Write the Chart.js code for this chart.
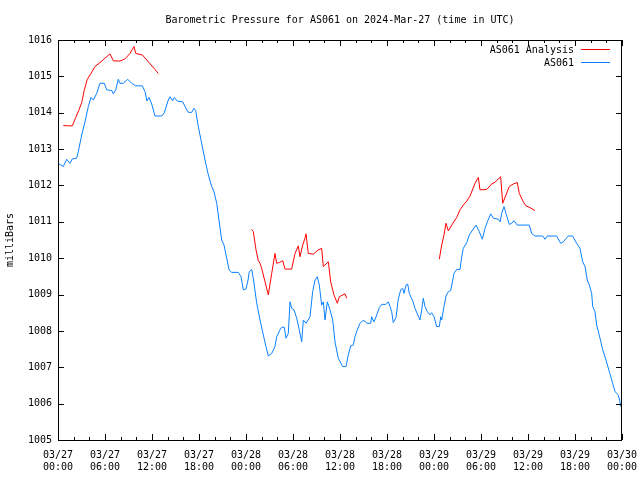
<!DOCTYPE html>
<html>
<head>
<meta charset="utf-8">
<script src="https://cdn.jsdelivr.net/npm/chart.js@4.4.1/dist/chart.umd.min.js"></script>
<style>
  html, body { margin: 0; padding: 0; background: #fff; }
</style>
</head>
<body>
<canvas id="myChart" width="640" height="480"></canvas>
<script>
const chartTitle = 'Barometric Pressure for AS061 on 2024-Mar-27 (time in UTC)';

// x tick labels, one per 6 hours from 03/27 00:00
const tickDates = ['03/27', '03/27', '03/27', '03/27', '03/28', '03/28', '03/28', '03/28', '03/29', '03/29', '03/29', '03/29', '03/30'];
const tickTimes = ['00:00', '06:00', '12:00', '18:00', '00:00', '06:00', '12:00', '18:00', '00:00', '06:00', '12:00', '18:00', '00:00'];

// AS061 station, hours since 03/27 00:00 UTC
const stationHours = [
    0.00, 0.68, 1.11, 1.53, 1.83, 2.39, 2.59, 3.03, 3.45, 3.87,
    4.21, 4.51, 4.94, 5.36, 5.91, 6.22, 6.86, 7.06, 7.37, 7.70,
    7.91, 8.34, 8.90, 9.41, 9.92, 10.76, 11.11, 11.36, 11.62, 11.96,
    12.38, 13.24, 13.57, 14.08, 14.30, 14.64, 14.85, 15.23, 15.92, 16.34,
    16.63, 17.07, 17.36, 17.58, 17.91, 18.34, 18.77, 19.19, 19.62, 19.91,
    20.26, 20.55, 20.90, 21.19, 21.54, 21.83, 22.17, 23.02, 23.36, 23.66,
    24.00, 24.26, 24.42, 24.73, 24.93, 25.37, 25.79, 26.21, 26.55, 26.85,
    27.28, 27.70, 27.92, 28.34, 28.56, 28.89, 29.11, 29.40, 29.62, 29.83,
    30.13, 30.47, 30.80, 31.11, 31.32, 31.66, 32.17, 32.51, 32.81, 33.10,
    33.36, 33.66, 33.87, 34.09, 34.38, 34.72, 35.07, 35.36, 35.78, 36.34,
    36.77, 37.06, 37.37, 37.70, 37.91, 38.21, 38.55, 38.90, 39.19, 39.41,
    39.92, 40.04, 40.34, 40.69, 41.02, 41.32, 41.87, 42.17, 42.38, 42.60,
    42.80, 43.15, 43.44, 43.75, 44.00, 44.17, 44.43, 44.64, 44.85, 45.28,
    45.57, 45.87, 46.21, 46.43, 46.63, 46.85, 47.14, 47.49, 47.70, 48.00,
    48.34, 48.68, 48.86, 48.98, 49.28, 49.53, 49.83, 50.13, 50.39, 50.55,
    50.90, 51.32, 51.54, 51.74, 52.18, 52.51, 52.94, 53.36, 53.78, 54.17,
    54.51, 54.81, 55.24, 55.58, 56.21, 56.43, 56.64, 56.94, 57.19, 57.61,
    57.92, 58.21, 58.63, 60.17, 60.47, 60.89, 61.88, 62.17, 62.46, 63.66,
    64.17, 64.51, 65.14, 65.70, 66.21, 66.64, 66.98, 67.28, 67.57, 67.83,
    68.13, 68.26, 68.55, 68.77, 69.19, 69.54, 69.96, 70.38, 70.81, 71.11,
    71.53, 71.74, 71.83
];
const stationPressure = [
    1012.61, 1012.52, 1012.72, 1012.61, 1012.73, 1012.75, 1012.93, 1013.39, 1013.75, 1014.17,
    1014.42, 1014.35, 1014.53, 1014.81, 1014.81, 1014.63, 1014.61, 1014.52, 1014.63, 1014.92,
    1014.81, 1014.81, 1014.92, 1014.81, 1014.74, 1014.74, 1014.58, 1014.32, 1014.42, 1014.24,
    1013.91, 1013.91, 1014.00, 1014.35, 1014.44, 1014.33, 1014.42, 1014.32, 1014.30, 1014.12,
    1014.01, 1014.01, 1014.12, 1014.06, 1013.62, 1013.16, 1012.70, 1012.29, 1011.97, 1011.83,
    1011.51, 1011.05, 1010.50, 1010.36, 1010.00, 1009.68, 1009.61, 1009.61, 1009.49, 1009.13,
    1009.15, 1009.40, 1009.63, 1009.69, 1009.45, 1008.76, 1008.30, 1007.89, 1007.57, 1007.31,
    1007.38, 1007.57, 1007.84, 1008.03, 1008.10, 1008.10, 1007.80, 1007.93, 1008.80, 1008.62,
    1008.58, 1008.35, 1008.03, 1007.70, 1008.30, 1008.21, 1008.39, 1009.08, 1009.40, 1009.49,
    1009.26, 1008.71, 1008.80, 1008.30, 1008.80, 1008.58, 1008.30, 1007.70, 1007.25, 1007.02,
    1007.02, 1007.34, 1007.59, 1007.61, 1007.84, 1008.03, 1008.21, 1008.28, 1008.27, 1008.21,
    1008.21, 1008.39, 1008.25, 1008.44, 1008.64, 1008.73, 1008.73, 1008.80, 1008.67, 1008.53,
    1008.23, 1008.37, 1008.87, 1009.13, 1009.17, 1009.03, 1009.26, 1009.29, 1009.03, 1008.83,
    1008.62, 1008.47, 1008.30, 1008.58, 1008.90, 1008.67, 1008.53, 1008.44, 1008.50, 1008.39,
    1008.12, 1008.12, 1008.39, 1008.30, 1008.67, 1008.96, 1009.08, 1009.11, 1009.40, 1009.58,
    1009.69, 1009.69, 1010.04, 1010.27, 1010.43, 1010.64, 1010.78, 1010.91, 1010.73, 1010.52,
    1010.82, 1011.00, 1011.22, 1011.10, 1011.07, 1011.00, 1011.23, 1011.42, 1011.23, 1010.93,
    1010.96, 1011.03, 1010.91, 1010.91, 1010.68, 1010.61, 1010.61, 1010.52, 1010.61, 1010.61,
    1010.41, 1010.45, 1010.61, 1010.61, 1010.41, 1010.27, 1009.90, 1009.77, 1009.40, 1009.26,
    1009.03, 1008.67, 1008.53, 1008.16, 1007.80, 1007.48, 1007.20, 1006.88, 1006.56, 1006.33,
    1006.24, 1006.05, 1005.92
];

// AS061 Analysis, three runs (null = gap between runs)
const analysisHours = [
    0.68, 1.24, 1.83, 2.26, 2.68, 3.03, 3.36, 3.74, 4.21, 4.72,
    5.36, 6.00, 6.64, 7.06, 7.91, 8.55, 9.19, 9.70, 9.92, 10.76,
    11.53, 12.38, 12.80,
    18.00,
    24.73, 24.93, 25.28, 25.57, 25.79, 26.00, 26.43, 26.85, 27.28, 27.70,
    27.92, 28.25, 28.69, 28.98, 29.83, 30.26, 30.68, 30.89, 31.24, 31.53,
    31.66, 31.95, 32.59, 33.23, 33.66, 33.87, 34.51, 34.81, 35.23, 35.66,
    35.91, 36.64, 36.85,
    42.00,
    48.68, 48.98, 49.28, 49.53, 49.83, 50.26, 50.90, 51.32, 51.74, 52.18,
    52.60, 53.24, 53.66, 53.87, 54.73, 55.36, 55.79, 56.51, 56.77, 57.19,
    57.61, 58.12, 58.63, 58.89, 59.40, 59.74, 60.26, 60.89
];
const analysisPressure = [
    1013.65, 1013.64, 1013.64, 1013.87, 1014.08, 1014.28, 1014.63, 1014.92, 1015.08, 1015.27,
    1015.38, 1015.50, 1015.62, 1015.43, 1015.42, 1015.48, 1015.63, 1015.82, 1015.63, 1015.59,
    1015.40, 1015.19, 1015.08,
    null,
    1010.79, 1010.73, 1010.23, 1009.93, 1009.86, 1009.72, 1009.35, 1008.99, 1009.58, 1010.13,
    1009.86, 1009.88, 1009.93, 1009.70, 1009.70, 1010.13, 1010.34, 1010.04, 1010.36, 1010.55,
    1010.67, 1010.13, 1010.11, 1010.23, 1010.27, 1009.77, 1009.90, 1009.35, 1008.99, 1008.76,
    1008.94, 1009.02, 1008.90,
    null,
    1009.97, 1010.36, 1010.64, 1010.96, 1010.75, 1010.91, 1011.12, 1011.33, 1011.46, 1011.57,
    1011.71, 1012.06, 1012.22, 1011.88, 1011.89, 1012.04, 1012.09, 1012.24, 1011.51, 1011.74,
    1011.97, 1012.04, 1012.08, 1011.78, 1011.55, 1011.44, 1011.39, 1011.31
];

const toPoints = (xs, ys) => xs.map((x, i) => ({ x: x, y: ys[i] }));

Chart.defaults.font.family = "'DejaVu Sans Mono', 'Liberation Mono', monospace";
Chart.defaults.font.size = 10;
Chart.defaults.color = '#000';

// gnuplot look: frame, inward ticks on all sides, title and key inside the plot
const gnuplotFrame = {
    id: 'gnuplotFrame',
    afterDraw(chart) {
        const { ctx, chartArea: a, scales: { x, y } } = chart;
        ctx.save();
        ctx.strokeStyle = '#000';
        ctx.lineWidth = 1;
        ctx.beginPath();
        for (let h = 0; h <= 72; h += 2) {
            const px = Math.round(x.getPixelForValue(h)) + 0.5;
            const len = h % 6 === 0 ? 6 : 3;
            ctx.moveTo(px, a.bottom);
            ctx.lineTo(px, a.bottom - len);
            ctx.moveTo(px, a.top);
            ctx.lineTo(px, a.top + len);
        }
        for (let v = 1005; v <= 1016; v++) {
            const py = Math.round(y.getPixelForValue(v)) + 0.5;
            ctx.moveTo(a.left, py);
            ctx.lineTo(a.left + 6, py);
            ctx.moveTo(a.right, py);
            ctx.lineTo(a.right - 6, py);
        }
        ctx.stroke();
        ctx.strokeRect(a.left + 0.5, a.top + 0.5, a.right - a.left - 1, a.bottom - a.top);

        ctx.fillStyle = '#000';
        ctx.font = Chart.helpers.toFont(Chart.defaults.font).string;
        ctx.textBaseline = 'middle';
        ctx.textAlign = 'center';
        ctx.fillText(chartTitle, (a.left + a.right) / 2, 20);

        ctx.textAlign = 'right';
        chart.data.datasets.forEach((ds, i) => {
            const ly = a.top + 10 + i * 13;
            ctx.fillText(ds.label, a.right - 48, ly);
            ctx.strokeStyle = ds.borderColor;
            ctx.beginPath();
            ctx.moveTo(a.right - 41, ly - 0.5);
            ctx.lineTo(a.right - 12, ly - 0.5);
            ctx.stroke();
        });
        ctx.restore();
    }
};

const config = {
    type: 'line',
    data: {
        datasets: [
            {
                label: 'AS061 Analysis',
                data: toPoints(analysisHours, analysisPressure),
                borderColor: '#ff0000',
                borderWidth: 1,
                pointRadius: 0,
                spanGaps: false,
            },
            {
                label: 'AS061',
                data: toPoints(stationHours, stationPressure),
                borderColor: '#0a80ff',
                borderWidth: 1,
                pointRadius: 0,
            },
        ],
    },
    options: {
        responsive: false,
        animation: false,
        devicePixelRatio: 1,
        layout: { padding: { top: 40, right: 18, left: 0, bottom: 0 } },
        plugins: {
            legend: { display: false },
            title: { display: false },
            tooltip: { enabled: false },
        },
        scales: {
            x: {
                type: 'linear',
                min: 0,
                max: 72,
                grid: { display: false, drawTicks: false },
                border: { display: false },
                afterFit: (scale) => {
                    scale.height = 40;
                    scale.paddingLeft = 0;
                    scale.paddingRight = 0;
                },
                ticks: {
                    stepSize: 6,
                    autoSkip: false,
                    maxRotation: 0,
                    padding: 9,
                    callback: (value) => {
                        const i = Math.round(value / 6);
                        return [tickDates[i], tickTimes[i]];
                    },
                },
            },
            y: {
                min: 1005,
                max: 1016,
                grid: { display: false, drawTicks: false },
                border: { display: false },
                afterFit: (scale) => {
                    scale.width = 58;
                    scale.paddingTop = 0;
                    scale.paddingBottom = 0;
                },
                title: {
                    display: true,
                    text: 'milliBars',
                    padding: { top: 4, bottom: 0 },
                },
                ticks: {
                    stepSize: 1,
                    padding: 6,
                    callback: (value) => String(value),
                },
            },
        },
    },
    plugins: [gnuplotFrame],
};

const myChart = new Chart(document.getElementById('myChart'), config);
</script>
</body>
</html>
